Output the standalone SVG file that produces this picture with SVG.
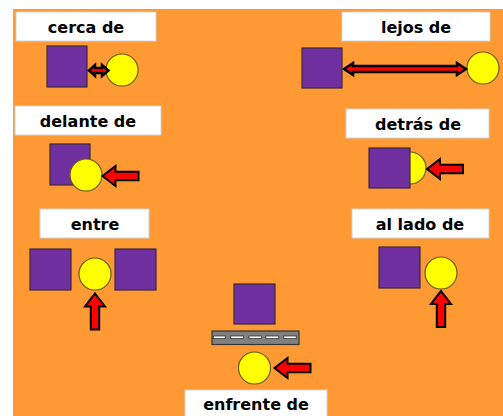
<svg xmlns="http://www.w3.org/2000/svg" width="503" height="416" viewBox="0 0 503 416">
<style>
.bg{fill:#FF9933}
.lbl{fill:#FFFFFF;stroke:#C8D4DA;stroke-width:1}
.txt{font-family:"Comic Sans MS","DejaVu Sans",sans-serif;font-weight:bold;font-size:16px;fill:#000;text-anchor:middle}
.sq{fill:#7030A0;stroke:#3A2A3A;stroke-width:1.2}
.ci{fill:#FFFF00;stroke:#6B5A10;stroke-width:1.2}
.ar{fill:#FF0000;stroke:#000;stroke-width:2;stroke-linejoin:miter}
.ar2{fill:#FF0000;stroke:#000;stroke-width:2.5;stroke-linejoin:miter}
.road{fill:#808080;stroke:#333;stroke-width:1.2}
.dash{fill:#FFFFFF;stroke:#333;stroke-width:0.8}
</style>
<defs>
<path id="arrL" d="M0,0 L13,-10 L13,-4.2 L36,-4.2 L36,4.2 L13,4.2 L13,10 Z"/>
</defs>
<rect x="0" y="0" width="503" height="416" fill="#FFFFFF"/>
<rect class="bg" x="13" y="9" width="490" height="407"/>

<g id="cerca">
<rect class="lbl" x="16" y="12" width="140" height="29"/>
<text class="txt" x="86" y="33">cerca de</text>
<rect class="sq" x="47" y="46" width="40" height="41"/>
<circle class="ci" cx="122" cy="70" r="16"/>
</g>

<g id="lejos">
<rect class="lbl" x="342" y="12" width="148" height="29"/>
<text class="txt" x="416" y="33">lejos de</text>
<rect class="sq" x="302" y="48" width="40" height="40"/>
<circle class="ci" cx="483" cy="68" r="16"/>
</g>

<g id="delante">
<rect class="lbl" x="15" y="106" width="146" height="29"/>
<text class="txt" x="88" y="127">delante de</text>
<rect class="sq" x="50" y="144" width="40" height="41"/>
<circle class="ci" cx="86" cy="175" r="16"/>
</g>

<g id="detras">
<rect class="lbl" x="346" y="109" width="143" height="29"/>
<text class="txt" x="418" y="130">detrás de</text>
<circle class="ci" cx="410" cy="168" r="16"/>
<rect class="sq" x="369" y="148" width="41" height="40"/>
</g>

<g id="entre">
<rect class="lbl" x="40" y="209" width="109" height="29"/>
<text class="txt" x="95" y="230">entre</text>
<rect class="sq" x="30" y="249" width="41" height="41"/>
<circle class="ci" cx="95" cy="274" r="16"/>
<rect class="sq" x="115" y="249" width="41" height="41"/>
</g>

<g id="allado">
<rect class="lbl" x="352" y="209" width="137" height="29"/>
<text class="txt" x="420" y="230">al lado de</text>
<rect class="sq" x="379" y="247" width="41" height="41"/>
<circle class="ci" cx="441" cy="273" r="16"/>
</g>

<g id="enfrente">
<rect class="sq" x="234" y="284" width="41" height="40"/>
<rect class="road" x="212" y="331" width="87" height="13.5"/>
<rect class="dash" x="213.5" y="336" width="12" height="2.6"/>
<rect class="dash" x="230.5" y="336" width="13" height="2.6"/>
<rect class="dash" x="249" y="336" width="12.5" height="2.6"/>
<rect class="dash" x="265.8" y="336" width="13" height="2.6"/>
<rect class="dash" x="283.7" y="336" width="12.5" height="2.6"/>
<circle class="ci" cx="254.5" cy="368" r="16"/>
<rect class="lbl" x="185" y="390" width="142" height="30"/>
<text class="txt" x="256" y="410">enfrente de</text>
</g>

<g id="connectors">
<path class="ar2" d="M89,70.5 L95,65 L95,68 L102,68 L102,65 L108.5,70.5 L102,76 L102,73 L95,73 L95,76 Z"/>
<path class="ar2" d="M344,69 L353,63 L353,66 L457,66 L457,63 L466,69 L457,75 L457,72 L353,72 L353,75 Z"/>
<use href="#arrL" class="ar" transform="translate(102.5,176)"/>
<use href="#arrL" class="ar" transform="translate(427,169)"/>
<use href="#arrL" class="ar" transform="translate(274.5,368)"/>
<use href="#arrL" class="ar" transform="translate(95,293.5) rotate(90)"/>
<use href="#arrL" class="ar" transform="translate(441,291) rotate(90)"/>
</g>
</svg>
